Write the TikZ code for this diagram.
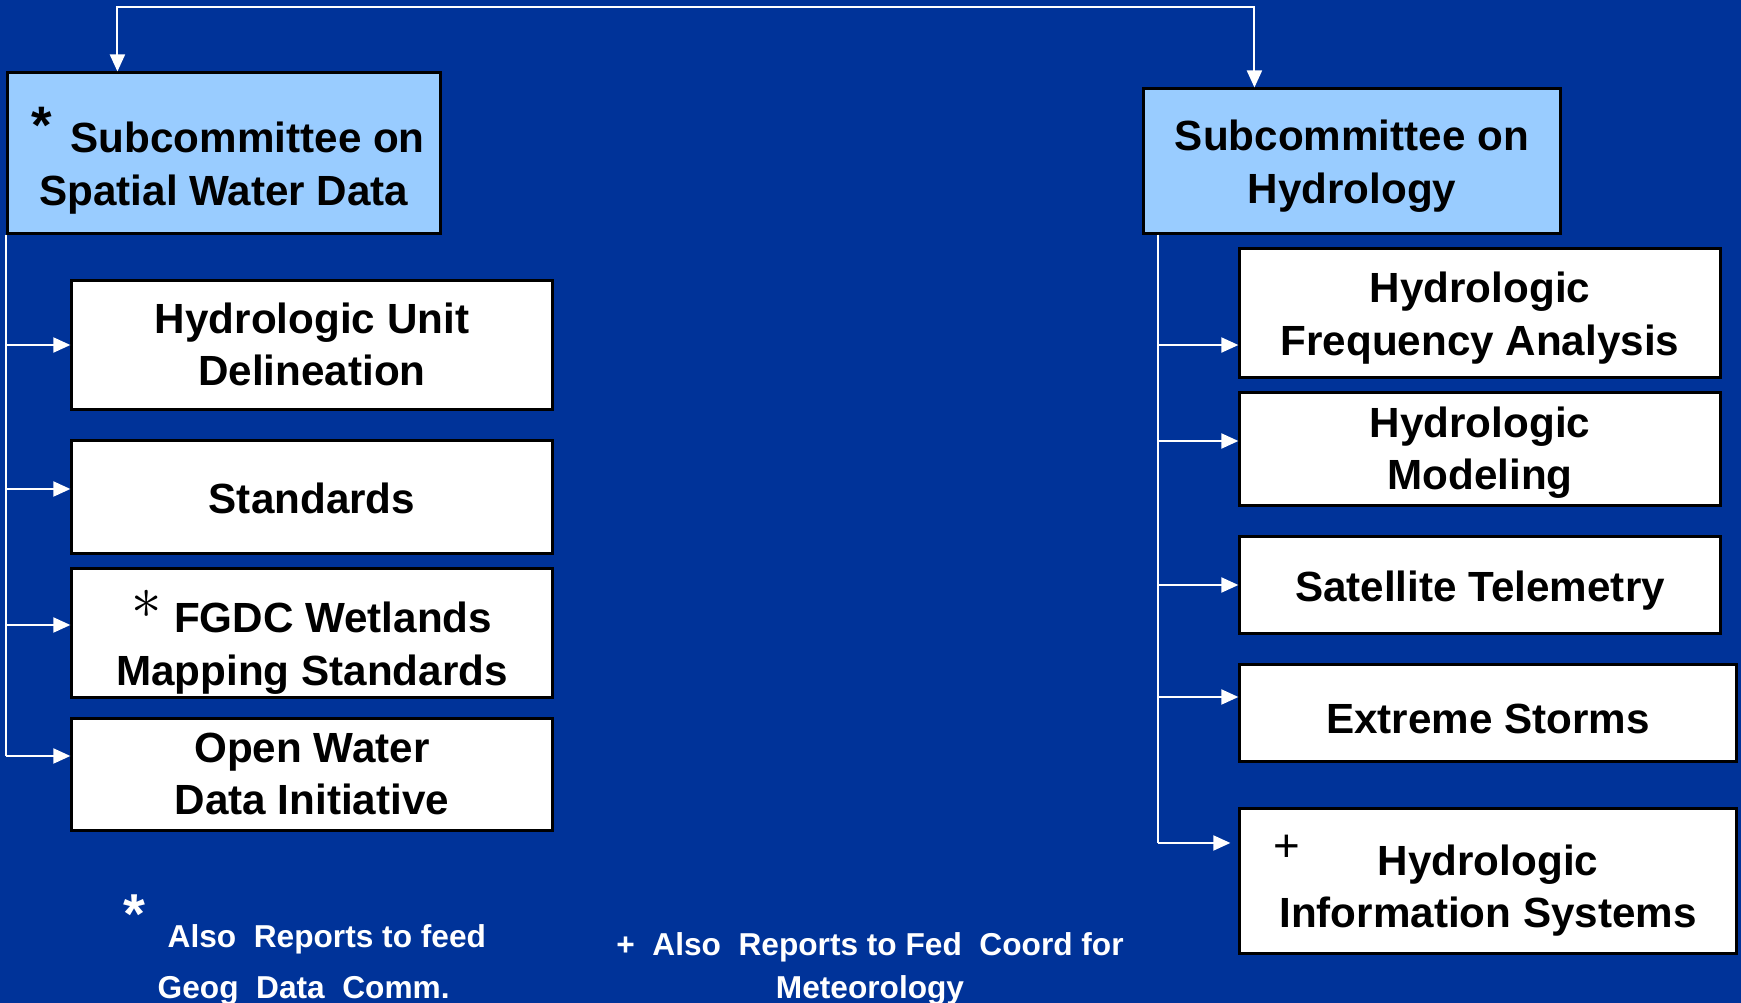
\documentclass[tikz,border=0pt]{standalone}
\usepackage{fontspec}
\setmainfont{Liberation Sans}
\usetikzlibrary{arrows.meta}

\definecolor{slidebg}{RGB}{0,51,153}
\definecolor{headfill}{RGB}{153,204,255}

\begin{document}
\begin{tikzpicture}[
        x=0.01cm, y=-0.01cm,
        >={Triangle[length=0.17cm,width=0.15cm]},
        box/.style={draw=black, line width=0.03cm, inner sep=0pt,
            align=center, text=black, minimum width=4.8cm,
            minimum height=#1, font=\fontsize{12}{15}\selectfont\bfseries,
            execute at end node={\rule[-3.6pt]{0pt}{0pt}}},
        box/.default=1.12cm,
        tall/.style={execute at begin node={\rule{0pt}{#1}}},
        tall/.default=26.9pt,
        head/.style={box=#1, fill=headfill},
        sub/.style={box=#1, fill=white},
        sub/.default=1.12cm,
        wire/.style={draw=white, line width=0.02cm},
        arr/.style={wire, ->},
        note/.style={text=white, inner sep=0pt,
            font=\fontsize{9}{#1}\selectfont\bfseries},
        note/.default=14.5pt
    ]
    \fill[slidebg] (0,0) rectangle (1741,1003);
    \useasboundingbox (0,0) rectangle (1741,1003);

    % the two subcommittees
    \node[head=1.6cm, minimum width=4.32cm, tall=33.2pt] (swd) at (224,153)
        {\hspace{0.08cm}\raisebox{0.22em}{\fontsize{15}{15}\selectfont *}\hspace{0.19cm}Subcommittee on\\Spatial Water Data};
    \node[head=1.44cm, minimum width=4.16cm, tall=27.5pt] (soh) at (1352,161)
        {Subcommittee on\\Hydrology};

    % groups under spatial water data
    \node[sub=1.28cm, tall] (hud) at (312,345) {Hydrologic Unit\\Delineation};
    \node[sub, tall=12.7pt] (std) at (312,497) {Standards};
    \node[sub=1.28cm, tall=33.2pt] (wet) at (312,633)
        {\raisebox{4pt}{\fontsize{16}{16}\selectfont$\ast$}~FGDC Wetlands\\Mapping Standards};
    \node[sub=1.11cm, tall=26.6pt] (owd) at (312,774.5) {Open Water\\Data Initiative};

    % groups under hydrology
    \node[sub=1.28cm, tall=27.5pt] (hfa) at (1480,313) {Hydrologic\\Frequency Analysis};
    \node[sub, tall] (hmo) at (1480,449) {Hydrologic\\Modeling};
    \node[sub=0.96cm, tall=12.7pt] (sat) at (1480,585) {Satellite Telemetry};
    \node[sub=0.96cm, minimum width=4.96cm, tall=15.5pt] (ext) at (1488,713)
        {Extreme Storms};
    \node[sub=1.44cm, minimum width=4.96cm, tall=30.3pt] (his) at (1488,881)
        {Hydrologic\\Information Systems};
    \node[font=\fontsize{13}{13}\selectfont, inner sep=0pt] (hisplus)
        at ([xshift=0.48cm,yshift=-0.41cm]his.north west) {+};

    % link between the subcommittees
    \draw[wire, <->] ([xshift=1.11cm]swd.north west) -- ++(0,0.64cm)
        -| ([xshift=1.12cm]soh.north west);

    % left tree
    \coordinate (l1) at (hud.west);
    \coordinate (l2) at ([yshift=0.08cm]std.west);
    \coordinate (l3) at ([yshift=0.08cm]wet.west);
    \coordinate (l4) at ([yshift=0.185cm]owd.west);
    \draw[wire] (swd.south west) -- (swd.south west |- l4);
    \foreach \c in {l1,l2,l3,l4}
        \draw[arr] (swd.south west |- \c) -- (\c);

    % right tree
    \coordinate (rtop) at ([xshift=0.16cm]soh.south west);
    \coordinate (r1) at ([yshift=-0.32cm]hfa.west);
    \coordinate (r2) at ([yshift=0.08cm]hmo.west);
    \coordinate (r3) at (sat.west);
    \coordinate (r4) at ([yshift=0.16cm]ext.west);
    \coordinate (r5) at ([xshift=-0.08cm,yshift=0.38cm]his.west);
    \draw[wire] (rtop) -- (rtop |- r5);
    \foreach \c in {r1,r2,r3,r4,r5}
        \draw[arr] (rtop |- \c) -- (\c);

    % footnotes
    \node[note, font=\fontsize{16}{16}\selectfont\bfseries, anchor=base]
        (fnstar) at (134,933) {*};
    \node[note, align=left, anchor=base west] (fn1) at (157,998)
        {\hspace{0.1cm}Also~ Reports to feed\\Geog~ Data~ Comm.};
    \node[note=12pt, align=center, anchor=base] (fn2) at (870,998)
        {+~ Also~ Reports to Fed~ Coord for\\Meteorology};
\end{tikzpicture}
\end{document}
